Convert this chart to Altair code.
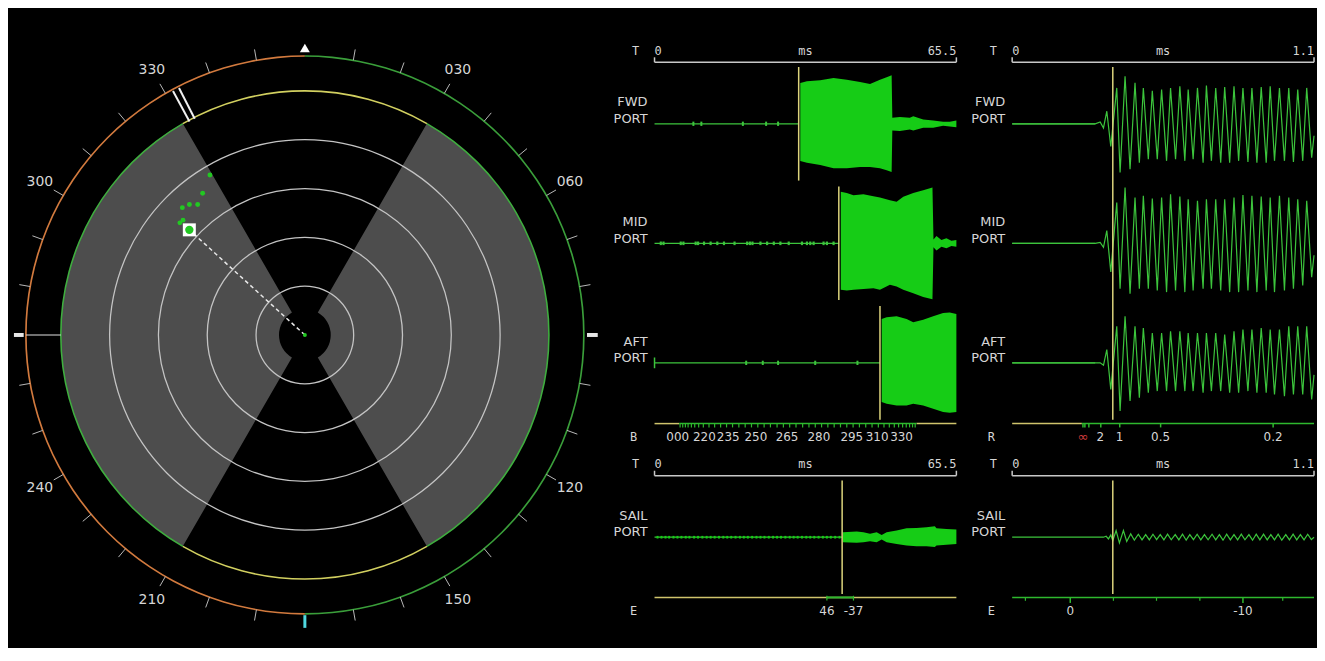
import math
import altair as alt
import pandas as pd

# ===================== polar display data (bearing deg, range in ring units) =====================
SECTOR_FROM = [210, 30]
SECTOR_TO = [330, 150]
SECTOR_INNER = 0.53
RANGE_RINGS = [1, 2, 3, 4]
TRACK_RING = 5.0
BEARING_RING = 5.714
TICK_BEARINGS = [10, 20, 30, 40, 50, 60, 70, 80, 100, 110, 120, 130, 140, 150, 160, 170,
                 190, 200, 210, 220, 230, 240, 250, 260, 280, 290, 300, 310, 320, 330, 340, 350]
LABEL_BEARINGS = [30, 60, 120, 150, 210, 240, 300, 330]
LABEL_TEXT = ["030", "060", "120", "150", "210", "240", "300", "330"]
CONTACT_BEARING = [329.3, 324.2, 320.6, 318.5, 316.1, 313.3, 311.9]
CONTACT_RANGE = [3.81, 3.58, 3.46, 3.57, 3.62, 3.43, 3.44]
TARGET_BEARING = [312.3]
TARGET_RANGE = [3.20]
CURSOR_BEARINGS = [331.6, 333.0]

# ===================== panel A : 0-65.5 ms (amplitudes in channel-spacing units) =====================
FWD_ONSET_MS = 31.28
MID_ONSET_MS = 39.99
AFT_ONSET_MS = 48.92
FWD_BLIPS_MS = [8.43, 10.16, 19.17, 24.21, 26.81]
MID_BLIPS_MS = [1.36, 1.95, 5.69, 6.27, 8.93, 9.45, 10.74, 12.17, 13.62, 15.07, 17.36, 20.1, 20.69,
                21.25, 22.98, 24.43, 25.88, 27.31, 29.12, 31.99, 33.07, 33.79, 34.52, 36.68, 37.4, 38.85]
AFT_BLIPS_MS = [19.89, 23.49, 26.81, 34.87, 44.03]
FWD_ENV_MS = [31.63, 33.07, 35.96, 38.84, 41.72, 44.6, 46.76, 48.92, 50.37, 51.45,
              51.6, 53.24, 55.4, 56.14, 58.3, 60.46, 62.62, 64.06, 65.5]
FWD_ENV_UP = [0.342, 0.356, 0.364, 0.383, 0.369, 0.35, 0.333, 0.369, 0.389, 0.406,
              0.05, 0.056, 0.05, 0.064, 0.036, 0.028, 0.017, 0.017, 0.028]
FWD_ENV_LO = [-0.311, -0.325, -0.344, -0.372, -0.372, -0.361, -0.361, -0.372, -0.389, -0.403,
              -0.056, -0.061, -0.047, -0.056, -0.033, -0.033, -0.017, -0.022, -0.028]
MID_ENV_MS = [40.42, 41.72, 43.17, 45.33, 47.49, 48.92, 51.08, 52.53, 53.98, 56.14, 58.3, 60.31,
              60.53, 61.18, 62.26, 63.34, 64.42, 65.5]
MID_ENV_UP = [0.431, 0.422, 0.403, 0.411, 0.394, 0.383, 0.361, 0.347, 0.389, 0.422, 0.444, 0.467,
              0.033, 0.061, 0.028, 0.042, 0.022, 0.028]
MID_ENV_LO = [-0.389, -0.394, -0.389, -0.383, -0.375, -0.389, -0.347, -0.361, -0.389, -0.417, -0.45, -0.467,
              -0.033, -0.061, -0.028, -0.042, -0.022, -0.028]
AFT_ENV_MS = [49.29, 50.37, 52.53, 54.69, 56.14, 58.3, 60.46, 62.62, 64.06, 65.5]
AFT_ENV_UP = [0.367, 0.381, 0.389, 0.367, 0.339, 0.361, 0.389, 0.417, 0.422, 0.408]
AFT_ENV_LO = [-0.328, -0.342, -0.356, -0.356, -0.342, -0.356, -0.383, -0.411, -0.417, -0.411]
B_AXIS_GREEN_MS = [5.34, 56.85]
B_TICKS_MS = [5.55, 6.12, 6.70, 7.28, 8.0, 8.72, 9.58, 10.59, 11.82, 13.04, 14.34, 15.63, 16.93, 18.3,
              19.67, 21.04, 22.41, 23.78, 25.15, 26.59, 27.96, 29.33, 30.7, 32.14, 33.51, 34.88, 36.25,
              37.61, 38.98, 40.35, 41.72, 43.09, 44.46, 45.83, 47.2, 48.57, 49.79, 50.95, 52.03, 52.96,
              53.83, 54.62, 55.34, 55.99, 56.56]
B_LABEL_MS = [5.04, 10.81, 16.0, 22.0, 28.75, 35.67, 42.8, 48.3, 53.6]
B_LABELS = ["000", "220", "235", "250", "265", "280", "295", "310", "330"]

# ===================== panel B : 0-1.1 ms =====================
B_ONSET_MS = 0.3667
TB_MS = [0.0, 0.3025, 0.3207, 0.3328, 0.3449, 0.3594,
         0.3812, 0.3933, 0.4114, 0.4296, 0.4477, 0.4635, 0.478, 0.4962, 0.5107, 0.5288,
         0.5446, 0.5627, 0.5772, 0.5954, 0.6111, 0.6293, 0.6414, 0.6595, 0.6753, 0.6958,
         0.7079, 0.7261, 0.7418, 0.76, 0.7745, 0.7926, 0.8084, 0.8253, 0.841, 0.8592,
         0.8737, 0.8919, 0.9076, 0.9258, 0.9403, 0.956, 0.9741, 0.9923, 1.008, 1.025,
         1.0407, 1.0589, 1.0734, 1.0915,
         1.1]
FWD_FINE = [0, 0, 0.015, -0.035, 0.105, -0.19,
            0.30, -0.408, 0.397, -0.381, 0.342, -0.325, 0.30, -0.297, 0.275, -0.297,
            0.286, -0.31, 0.30, -0.297, 0.314, -0.31, 0.286, -0.297, 0.30, -0.325,
            0.319, -0.31, 0.30, -0.325, 0.308, -0.325, 0.314, -0.31, 0.30, -0.319,
            0.30, -0.325, 0.308, -0.325, 0.314, -0.31, 0.30, -0.31, 0.30, -0.319,
            0.286, -0.31, 0.30, -0.283,
            -0.1]
MID_FINE = [0, 0, 0.008, -0.033, 0.106, -0.24,
            0.342, -0.38, 0.467, -0.422, 0.383, -0.38, 0.397, -0.38, 0.375, -0.394,
            0.383, -0.408, 0.411, -0.394, 0.392, -0.408, 0.369, -0.394, 0.356, -0.38,
            0.369, -0.38, 0.369, -0.394, 0.369, -0.408, 0.383, -0.408, 0.403, -0.394,
            0.397, -0.408, 0.392, -0.394, 0.383, -0.408, 0.397, -0.394, 0.383, -0.38,
            0.369, -0.353, 0.356, -0.283,
            -0.1]
AFT_FINE = [0, 0, 0, -0.02, 0.111, -0.222,
            0.306, -0.403, 0.389, -0.319, 0.306, -0.292, 0.292, -0.25, 0.25, -0.236,
            0.25, -0.236, 0.264, -0.236, 0.264, -0.236, 0.25, -0.236, 0.25, -0.25,
            0.25, -0.236, 0.25, -0.236, 0.236, -0.25, 0.264, -0.25, 0.278, -0.236,
            0.278, -0.25, 0.292, -0.25, 0.278, -0.264, 0.278, -0.278, 0.306, -0.264,
            0.306, -0.264, 0.306, -0.306,
            -0.1]
R_SPLIT_MS = 0.254
R_TICKS_MS = [0.258, 0.265, 0.2795, 0.323, 0.392, 0.541, 0.951]
R_LABEL_MS = [0.321, 0.391, 0.541, 0.951]
R_LABELS = ["2", "1", "0.5", "0.2"]
R_INF_MS = [0.258]

# ===================== panel C : SAIL 0-65.5 ms =====================
SAIL_ONSET_MS = 40.71
SAIL_BLIPS_MS = [0.65, 1.51, 2.38, 3.17, 4.11, 4.97, 5.84, 6.77, 7.57, 8.58, 9.44, 10.38, 11.31, 12.18,
                 13.04, 13.98, 14.92, 15.78, 16.65, 17.58, 18.52, 19.38, 20.25, 21.18, 22.12, 22.99,
                 23.85, 24.79, 25.72, 26.59, 27.45, 28.39, 29.33, 30.19, 31.06, 31.99, 32.93, 33.79,
                 34.66, 35.6, 36.53, 37.4, 38.26, 39.2, 40.14]
SAIL_ENV_MS = [40.86, 43.88, 45.33, 46.76, 48.2, 49.29, 50.37, 52.53, 54.69, 56.85, 59.01, 60.82,
               61.18, 63.34, 65.5]
SAIL_ENV_UP = [0.042, 0.047, 0.042, 0.028, 0.042, 0.019, 0.042, 0.056, 0.075, 0.078, 0.083, 0.092,
               0.075, 0.069, 0.064]
SAIL_ENV_LO = [-0.042, -0.047, -0.042, -0.033, -0.042, -0.019, -0.042, -0.056, -0.069, -0.075, -0.075,
               -0.083, -0.069, -0.064, -0.056]
E_SEG_MS = [37.4, 43.17]
E_SEG_LABELS = ["46", "-37"]

# ===================== panel D : SAIL 0-1.1 ms =====================
TD_MS = [0.0, 0.3328, 0.3425, 0.3509, 0.3594, 0.3667, 0.3788, 0.3909, 0.4054, 0.4175,
         0.4320, 0.4453, 0.4598, 0.4732, 0.4865, 0.4998, 0.5131, 0.5264, 0.5397, 0.5530,
         0.5663, 0.5797, 0.5942, 0.6075, 0.6208, 0.6341, 0.6474, 0.6607, 0.6741, 0.6874,
         0.7007, 0.7140, 0.7285, 0.7418, 0.7551, 0.7684, 0.7817, 0.7951, 0.8084, 0.8217,
         0.8350, 0.8483, 0.8628, 0.8761, 0.8894, 0.9028, 0.9161, 0.9294, 0.9427, 0.9560,
         0.9693, 0.9826, 0.9971, 1.0104, 1.0238, 1.0371, 1.0504, 1.0637, 1.0770, 1.0903,
         1.1]
SAIL_FINE = [0, 0, 0.008, -0.014, 0.019, -0.028, 0.056, -0.047, 0.056, -0.036,
             0.028, -0.025, 0.025, -0.022, 0.022, -0.022, 0.025, -0.02, 0.022, -0.022,
             0.025, -0.022, 0.022, -0.022, 0.025, -0.025, 0.022, -0.02, 0.025, -0.022,
             0.022, -0.022, 0.025, -0.022, 0.022, -0.025, 0.025, -0.022, 0.022, -0.022,
             0.025, -0.022, 0.022, -0.025, 0.025, -0.022, 0.025, -0.022, 0.022, -0.022,
             0.025, -0.025, 0.022, -0.022, 0.025, -0.022, 0.022, -0.022, 0.025, -0.02,
             0.0]
D_E_TICKS_MS = [0.0483, 0.369, 0.526, 0.684, 0.986]
D_E_MAJOR_MS = [0.2117, 0.841]
D_E_LABELS = ["0", "-10"]

# ===================== styling =====================
BG = "#000000"
GRAY = "#4d4d4d"
RING = "#c4c4c4"
GREEN_FILL = "#16cc16"
GREEN_LINE = "#3cc43c"
GREEN_DOT = "#22c822"
YELLOW = "#dcd47c"
AXIS_YELLOW = "#cfc46c"
AXIS_GREEN = "#2eb82e"
BRACKET = "#c8c8c8"
TEXT = "#d6d6d6"
SANS = "DejaVu Sans"
MONO = "DejaVu Sans Mono"

# ===================== polar chart =====================
PX = 49.0
P_W, P_H, P_CY = 596, 640, 327
pxs = alt.Scale(domain=[-P_W / 2 / PX, P_W / 2 / PX], nice=False, zero=False)
pys = alt.Scale(domain=[-(P_H - P_CY) / PX, P_CY / PX], nice=False, zero=False)
prs = alt.Scale(type="linear", domain=[0, 7], range=[0, 7 * PX], nice=False, zero=False)
pts = alt.Scale(type="linear", domain=[0, 360], range=[0, 2 * math.pi], nice=False, zero=False)

TRIG = dict(x0="datum.r0*sin(datum.b*PI/180)", y0="datum.r0*cos(datum.b*PI/180)",
            x1="datum.r1*sin(datum.b*PI/180)", y1="datum.r1*cos(datum.b*PI/180)")


def arc_layer(a0, a1, r0, r1, color):
    df = pd.DataFrame({"a0": a0, "a1": a1, "r0": r0, "r1": r1})
    return alt.Chart(df).mark_arc(color=color).encode(
        theta=alt.Theta("a0:Q", scale=pts),
        theta2="a1:Q",
        radius=alt.Radius("r1:Q", scale=prs),
        radius2="r0:Q",
        x=alt.XDatum(0, type="quantitative", scale=pxs, axis=None),
        y=alt.YDatum(0, type="quantitative", scale=pys, axis=None),
    )


def ring(r, a0, a1, color, half=0.013):
    return arc_layer(a0, a1, [r - half] * len(a0), [r + half] * len(a0), color)


def radial_rules(b, r0, r1, color, width, dash=None):
    df = pd.DataFrame({"b": b, "r0": r0, "r1": r1})
    kw = dict(color=color, strokeWidth=width)
    if dash:
        kw["strokeDash"] = dash
    return alt.Chart(df).transform_calculate(**TRIG).mark_rule(**kw).encode(
        x=alt.X("x0:Q", scale=pxs, axis=None), y=alt.Y("y0:Q", scale=pys, axis=None),
        x2="x1:Q", y2="y1:Q")


def polar_marks(b, r, mark, labels=None):
    d = {"b": b, "r": r}
    if labels is not None:
        d["label"] = labels
    base = alt.Chart(pd.DataFrame(d)).transform_calculate(
        x="datum.r*sin(datum.b*PI/180)", y="datum.r*cos(datum.b*PI/180)")
    enc = dict(x=alt.X("x:Q", scale=pxs, axis=None), y=alt.Y("y:Q", scale=pys, axis=None))
    if labels is not None:
        enc["text"] = "label:N"
    return mark(base).encode(**enc)


nT = len(TICK_BEARINGS)
polar_layers = [
    arc_layer(SECTOR_FROM, SECTOR_TO, [SECTOR_INNER] * 2, [TRACK_RING] * 2, GRAY),
]
for rr in RANGE_RINGS:
    polar_layers.append(ring(rr, [0], [360], RING))
polar_layers += [
    ring(TRACK_RING, [210, 30], [330, 150], "#3fae3f", 0.016),
    ring(TRACK_RING, [330, 150], [390, 210], "#d2d060", 0.016),
    ring(BEARING_RING, [180], [360], "#d27a3e", 0.016),
    ring(BEARING_RING, [0], [180], "#3a9e3a", 0.016),
    radial_rules(TICK_BEARINGS, [BEARING_RING] * nT, [5.94] * nT, "#b8b8b8", 1),
    radial_rules([270], [TRACK_RING], [BEARING_RING], "#e0e0e0", 1.2),
    radial_rules([270, 90], [5.76, 5.78], [5.96, 6.0], "#e6e6e6", 4),
    radial_rules([180], [5.74], [6.0], "#4fd8e0", 3),
    radial_rules(CURSOR_BEARINGS, [4.97] * 2, [5.68] * 2, "#f0f0f0", 2),
    polar_marks([0], [5.88], lambda c: c.mark_point(shape="triangle-up", filled=True, color="white",
                                                    size=100, opacity=1)),
    polar_marks(LABEL_BEARINGS, [6.27] * len(LABEL_BEARINGS),
                lambda c: c.mark_text(font=SANS, fontSize=14, color=TEXT, align="center",
                                      baseline="middle"), LABEL_TEXT),
    radial_rules(TARGET_BEARING, [0], TARGET_RANGE, "#e8e8e8", 1.5, dash=[4, 3]),
    polar_marks(TARGET_BEARING, TARGET_RANGE, lambda c: c.mark_point(shape="square", filled=True,
                                                                     color="white", size=170, opacity=1)),
    polar_marks(TARGET_BEARING, TARGET_RANGE, lambda c: c.mark_point(shape="circle", filled=True,
                                                                     color=GREEN_DOT, size=70, opacity=1)),
    polar_marks(CONTACT_BEARING, CONTACT_RANGE, lambda c: c.mark_point(shape="circle", filled=True,
                                                                       color=GREEN_DOT, size=24, opacity=1)),
    polar_marks([0], [0], lambda c: c.mark_point(shape="circle", filled=True, color=GREEN_DOT,
                                                 size=16, opacity=1)),
]
polar = alt.layer(*polar_layers).properties(width=P_W, height=P_H)

# ===================== waveform panels =====================
YU = 120.0  # pixels per channel spacing
W_P = 303   # trace width in px
H_TOP, H_BOT = 440, 200


def helpers(xs, ys):
    def hrules(x0, x1, y, color, width=1.0):
        df = pd.DataFrame({"x0": x0, "x1": x1, "y": y})
        return alt.Chart(df).mark_rule(color=color, strokeWidth=width).encode(
            x=alt.X("x0:Q", scale=xs, axis=None), x2="x1:Q", y=alt.Y("y:Q", scale=ys, axis=None))

    def vrules(x, y0, y1, color, width=1.0):
        df = pd.DataFrame({"x": x, "y0": y0, "y1": y1})
        return alt.Chart(df).mark_rule(color=color, strokeWidth=width).encode(
            x=alt.X("x:Q", scale=xs, axis=None), y=alt.Y("y0:Q", scale=ys, axis=None), y2="y1:Q")

    def texts(x, y, labels, align="center", color=TEXT, size=12, font=MONO, dx=0):
        df = pd.DataFrame({"x": x, "y": y, "label": labels})
        return alt.Chart(df).mark_text(align=align, baseline="middle", color=color, fontSize=size,
                                       font=font, dx=dx).encode(
            x=alt.X("x:Q", scale=xs, axis=None), y=alt.Y("y:Q", scale=ys, axis=None), text="label:N")

    def area(t, up, lo, off):
        df = pd.DataFrame({"t": t, "up": [off + u for u in up], "lo": [off + v for v in lo]})
        return alt.Chart(df).mark_area(color=GREEN_FILL, opacity=1).encode(
            x=alt.X("t:Q", scale=xs, axis=None), y=alt.Y("up:Q", scale=ys, axis=None), y2="lo:Q")

    def line(t, v, off):
        df = pd.DataFrame({"t": t, "v": [off + a for a in v]})
        return alt.Chart(df).mark_line(color=GREEN_LINE, strokeWidth=1.2).encode(
            x=alt.X("t:Q", scale=xs, axis=None), y=alt.Y("v:Q", scale=ys, axis=None))

    return hrules, vrules, texts, area, line


def frame(h, v, tx, xmax, right_label, names, letter):
    n = len(names)
    last = -(n - 1)
    layers = [
        h([0], [xmax], [0.515], BRACKET, 1.5),
        v([0, xmax], [0.515, 0.515], [0.556, 0.556], BRACKET, 1.5),
        tx([0], [0.61], ["0"], align="left"),
        tx([xmax / 2], [0.61], ["ms"]),
        tx([xmax], [0.61], [right_label], align="right"),
        tx([0], [0.61], ["T"], dx=-19),
        tx([0], [last - 0.617], [letter], dx=-21),
    ]
    for i, name in enumerate(names):
        o = -i
        layers.append(tx([0, 0], [o + 0.178, o + 0.04], [name, "PORT"], align="right", font=SANS,
                         size=13, dx=-7))
    return layers


def scales(xmax, label_px, height, top_px):
    # the plot area also holds the label column on the left of the trace
    xs = alt.Scale(domain=[-label_px / W_P * xmax, xmax], nice=False, zero=False)
    ys = alt.Scale(domain=[-(height - top_px) / YU, top_px / YU], nice=False, zero=False)
    return xs, ys


LBL_L, LBL_R = 53, 55

# ---- panel A ----
xs, ys = scales(65.5, LBL_L, H_TOP, 115)
h, v, tx, ar, ln = helpers(xs, ys)
A = frame(h, v, tx, 65.5, "65.5", ["FWD", "MID", "AFT"], "B")
A += [
    h([0, 0, 0], [FWD_ONSET_MS, MID_ONSET_MS, AFT_ONSET_MS], [0, -1, -2], GREEN_LINE, 1.3),
    v(FWD_BLIPS_MS, [-0.018] * len(FWD_BLIPS_MS), [0.018] * len(FWD_BLIPS_MS), GREEN_LINE, 2),
    v(MID_BLIPS_MS, [-1.015] * len(MID_BLIPS_MS), [-0.985] * len(MID_BLIPS_MS), GREEN_LINE, 2.2),
    v(AFT_BLIPS_MS, [-2.018] * len(AFT_BLIPS_MS), [-1.982] * len(AFT_BLIPS_MS), GREEN_LINE, 2),
    v([0], [-2.045], [-1.955], GREEN_LINE, 1.5),
    ar(FWD_ENV_MS, FWD_ENV_UP, FWD_ENV_LO, 0),
    ar(MID_ENV_MS, MID_ENV_UP, MID_ENV_LO, -1),
    ar(AFT_ENV_MS, AFT_ENV_UP, AFT_ENV_LO, -2),
    v([FWD_ONSET_MS, MID_ONSET_MS, AFT_ONSET_MS], [-0.475, -1.475, -2.475], [0.475, -0.525, -1.525],
      YELLOW, 1.5),
    h([0, B_AXIS_GREEN_MS[1]], [B_AXIS_GREEN_MS[0], 65.5], [-2.508, -2.508], AXIS_YELLOW, 1.5),
    h([B_AXIS_GREEN_MS[0]], [B_AXIS_GREEN_MS[1]], [-2.508], AXIS_GREEN, 1.5),
    v(B_TICKS_MS, [-2.508] * len(B_TICKS_MS), [-2.54] * len(B_TICKS_MS), AXIS_GREEN, 1.2),
    tx(B_LABEL_MS, [-2.617] * len(B_LABEL_MS), B_LABELS, font=SANS, size=12),
]
panelA = alt.layer(*A).properties(width=W_P + LBL_L, height=H_TOP)

# ---- panel B ----
xs, ys = scales(1.1, LBL_R, H_TOP, 115)
h, v, tx, ar, ln = helpers(xs, ys)
B = frame(h, v, tx, 1.1, "1.1", ["FWD", "MID", "AFT"], "R")
B += [
    h([0, 0, 0], [TB_MS[1]] * 3, [0, -1, -2], GREEN_LINE, 1.2),
    ln(TB_MS, FWD_FINE, 0),
    ln(TB_MS, MID_FINE, -1),
    ln(TB_MS, AFT_FINE, -2),
    v([B_ONSET_MS], [-2.475], [0.475], YELLOW, 1.5),
    h([0], [R_SPLIT_MS], [-2.508], AXIS_YELLOW, 1.5),
    h([R_SPLIT_MS], [1.1], [-2.508], AXIS_GREEN, 1.5),
    v(R_TICKS_MS, [-2.508] * len(R_TICKS_MS), [-2.54] * len(R_TICKS_MS), AXIS_GREEN, 1.5),
    tx(R_LABEL_MS, [-2.617] * len(R_LABEL_MS), R_LABELS, font=SANS, size=12),
    tx(R_INF_MS, [-2.617], ["∞"], font=SANS, size=13, color="#d23c3c"),
]
panelB = alt.layer(*B).properties(width=W_P + LBL_R, height=H_TOP)

# ---- panel C ----
xs, ys = scales(65.5, LBL_L, H_BOT, 90)
h, v, tx, ar, ln = helpers(xs, ys)
C = frame(h, v, tx, 65.5, "65.5", ["SAIL"], "E")
C += [
    h([0], [SAIL_ONSET_MS], [0], GREEN_LINE, 1.3),
    v(SAIL_BLIPS_MS, [-0.011] * len(SAIL_BLIPS_MS), [0.011] * len(SAIL_BLIPS_MS), GREEN_FILL, 2),
    ar(SAIL_ENV_MS, SAIL_ENV_UP, SAIL_ENV_LO, 0),
    v([SAIL_ONSET_MS], [-0.475], [0.475], YELLOW, 1.5),
    h([0], [65.5], [-0.504], AXIS_YELLOW, 1.5),
    h([E_SEG_MS[0]], [E_SEG_MS[1]], [-0.504], AXIS_GREEN, 2),
    v(E_SEG_MS, [-0.49, -0.49], [-0.53, -0.53], AXIS_GREEN, 1.2),
    tx(E_SEG_MS, [-0.617, -0.617], E_SEG_LABELS, font=SANS, size=12),
]
panelC = alt.layer(*C).properties(width=W_P + LBL_L, height=H_BOT)

# ---- panel D ----
xs, ys = scales(1.1, LBL_R, H_BOT, 90)
h, v, tx, ar, ln = helpers(xs, ys)
D = frame(h, v, tx, 1.1, "1.1", ["SAIL"], "E")
D += [
    ln(TD_MS, SAIL_FINE, 0),
    v([B_ONSET_MS], [-0.475], [0.475], YELLOW, 1.5),
    h([0], [1.1], [-0.504], AXIS_GREEN, 1.5),
    v(D_E_TICKS_MS, [-0.504] * len(D_E_TICKS_MS), [-0.532] * len(D_E_TICKS_MS), AXIS_GREEN, 1.2),
    v(D_E_MAJOR_MS, [-0.504] * 2, [-0.55] * 2, AXIS_GREEN, 1.5),
    tx(D_E_MAJOR_MS, [-0.617, -0.617], D_E_LABELS, font=SANS, size=12),
]
panelD = alt.layer(*D).properties(width=W_P + LBL_R, height=H_BOT)

top_row = alt.hconcat(panelA, panelB, spacing=0)
bottom_row = alt.hconcat(panelC, panelD, spacing=0)
right = alt.vconcat(top_row, bottom_row, spacing=0)

chart = alt.hconcat(polar, right, spacing=0, padding=0,
                    background=BG).configure_view(strokeWidth=0)

chart.save("out.html", embed_options={"renderer": "svg", "actions": False})
